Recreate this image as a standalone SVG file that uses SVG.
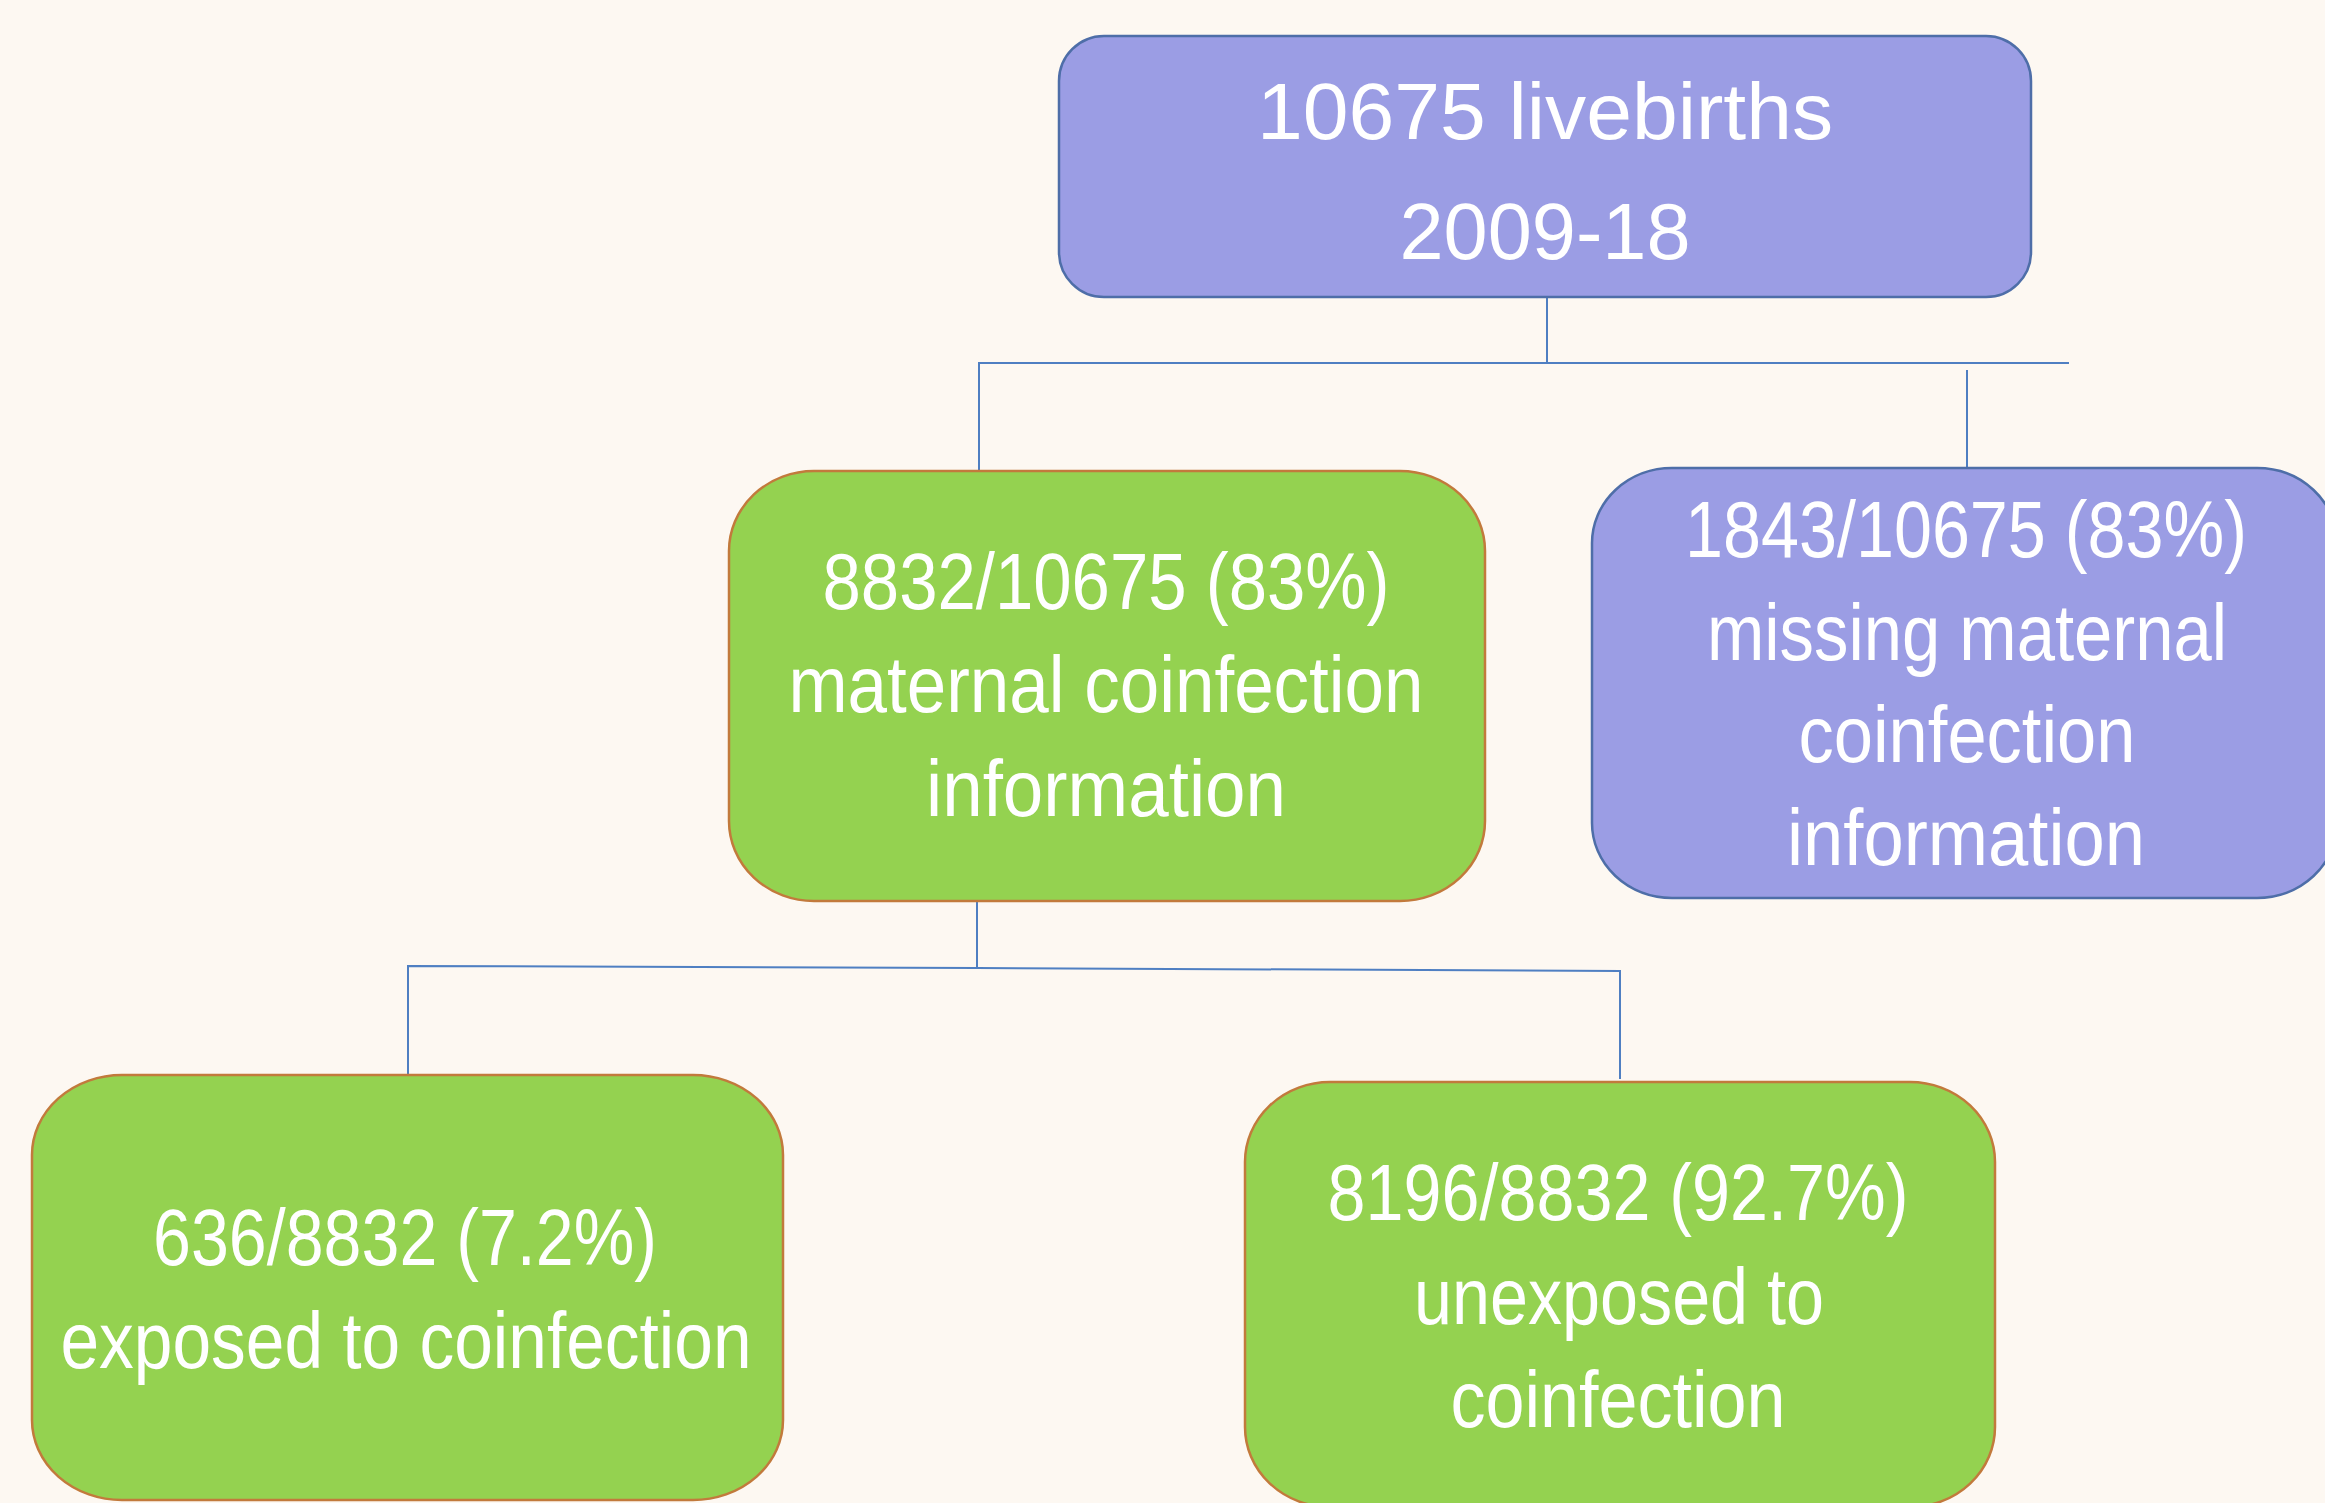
<svg xmlns="http://www.w3.org/2000/svg" width="2325" height="1503" viewBox="0 0 2325 1503">
<style>
.bg{fill:#FDF8F2}
.purple{fill:#9B9DE4;stroke:#4E6EA8;stroke-width:2.5}
.green{fill:#94D250;stroke:#C27A3C;stroke-width:2.5}
.t{font-family:"Liberation Sans",Arial,sans-serif;font-size:80px;fill:#FFFFFF;text-anchor:middle}
.c{fill:none;stroke:#4F7FC2;stroke-width:2}
</style>
<rect class="bg" x="0" y="0" width="2325" height="1503"/>
<g id="connectors">
<polyline class="c" points="1547,297 1547,363"/>
<polyline class="c" points="979,471 979,363 2069,363"/>
<polyline class="c" points="1967,370 1967,468"/>
<polyline class="c" points="977,900 977,968"/>
<polyline class="c" points="408,1075 408,966 977,968 1620,971 1620,1079"/>
</g>
<g id="node-livebirths">
<rect class="purple" x="1059" y="36" width="972" height="261" rx="45" ry="45"/>
<text class="t" x="1545" y="139" textLength="576" lengthAdjust="spacingAndGlyphs">10675 livebirths</text>
<text class="t" x="1545" y="259" textLength="291" lengthAdjust="spacingAndGlyphs">2009-18</text>
</g>
<g id="node-maternal-info">
<rect class="green" x="729" y="471" width="756" height="430" rx="85" ry="80"/>
<text class="t" x="1106" y="609" textLength="567" lengthAdjust="spacingAndGlyphs">8832/10675 (83%)</text>
<text class="t" x="1106" y="712" textLength="635" lengthAdjust="spacingAndGlyphs">maternal coinfection</text>
<text class="t" x="1106" y="816" textLength="360" lengthAdjust="spacingAndGlyphs">information</text>
</g>
<g id="node-missing">
<rect class="purple" x="1592" y="468" width="745" height="430" rx="80" ry="75"/>
<text class="t" x="1966" y="557" textLength="562" lengthAdjust="spacingAndGlyphs">1843/10675 (83%)</text>
<text class="t" x="1967" y="660" textLength="520" lengthAdjust="spacingAndGlyphs">missing maternal</text>
<text class="t" x="1967" y="762" textLength="337" lengthAdjust="spacingAndGlyphs">coinfection</text>
<text class="t" x="1966" y="865" textLength="358" lengthAdjust="spacingAndGlyphs">information</text>
</g>
<g id="node-exposed">
<rect class="green" x="32" y="1075" width="751" height="425" rx="90" ry="80"/>
<text class="t" x="405" y="1265" textLength="504" lengthAdjust="spacingAndGlyphs">636/8832 (7.2%)</text>
<text class="t" x="406" y="1368" textLength="691" lengthAdjust="spacingAndGlyphs">exposed to coinfection</text>
</g>
<g id="node-unexposed">
<rect class="green" x="1245" y="1082" width="750" height="425" rx="85" ry="80"/>
<text class="t" x="1618" y="1220" textLength="581" lengthAdjust="spacingAndGlyphs">8196/8832 (92.7%)</text>
<text class="t" x="1619" y="1324" textLength="410" lengthAdjust="spacingAndGlyphs">unexposed to</text>
<text class="t" x="1618" y="1427" textLength="335" lengthAdjust="spacingAndGlyphs">coinfection</text>
</g>
</svg>
